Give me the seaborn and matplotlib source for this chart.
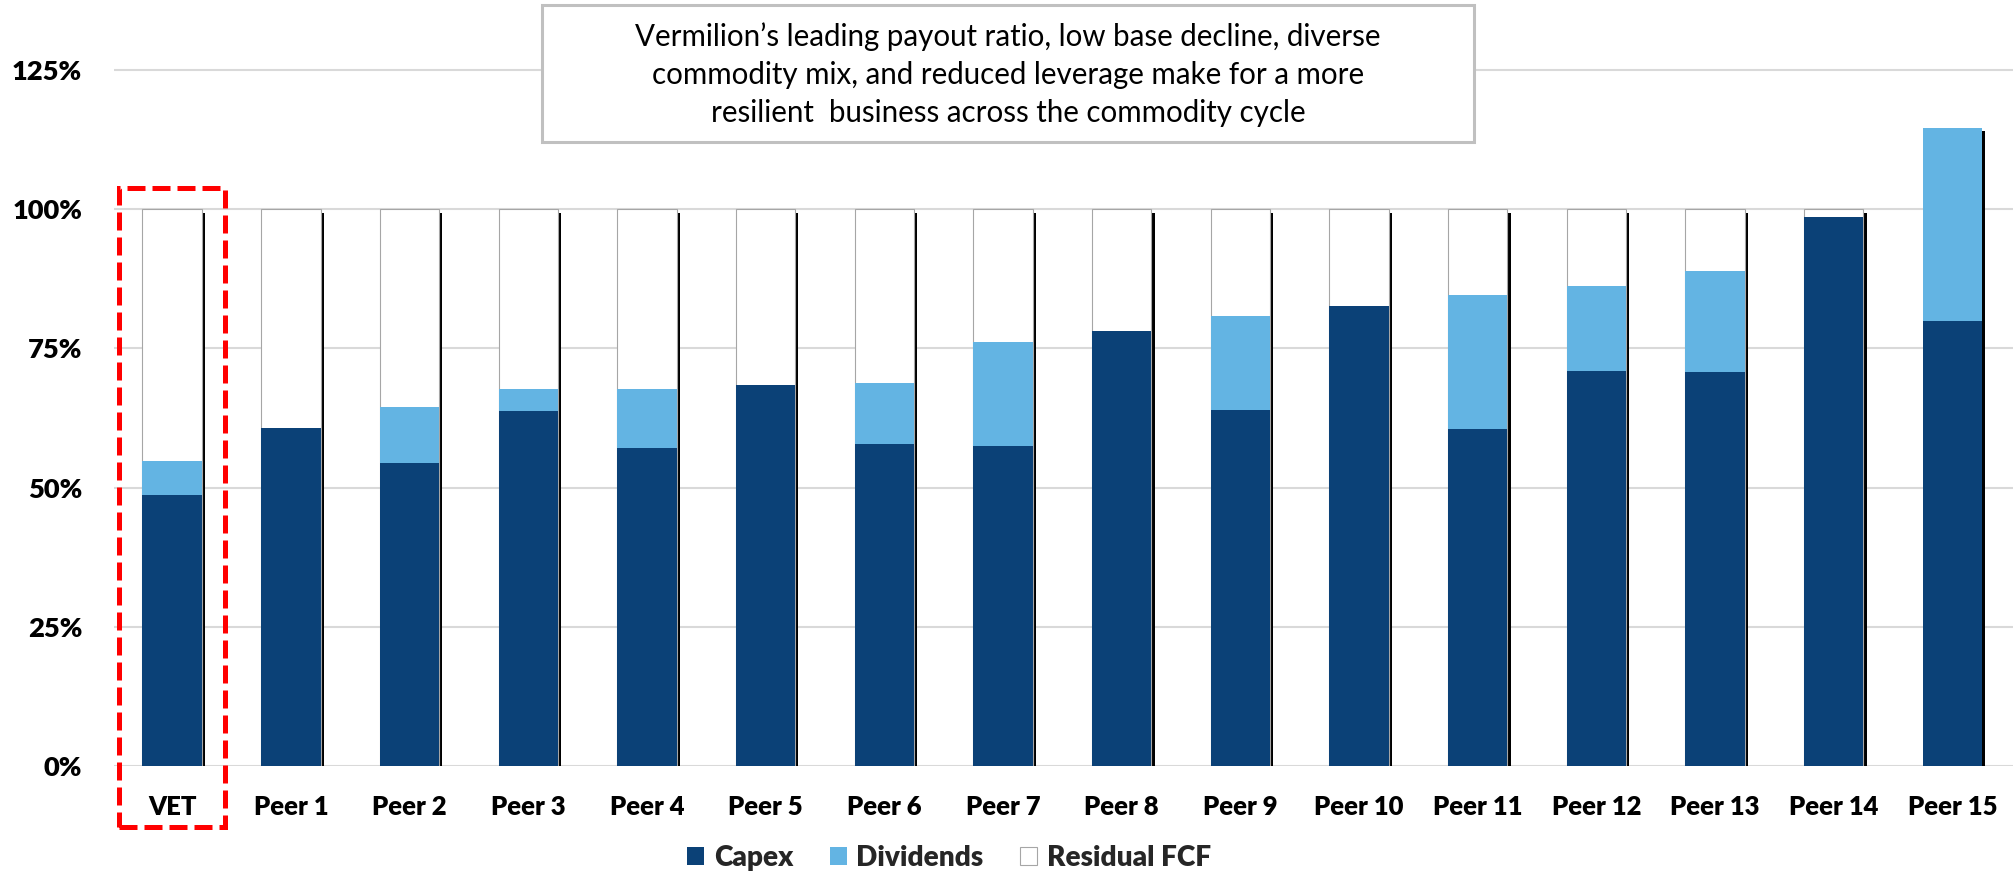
import numpy as np
import pandas as pd
import seaborn as sns
import matplotlib
matplotlib.use("Agg")
import matplotlib.pyplot as plt
import matplotlib.patheffects as pe
from matplotlib.patches import Rectangle, Patch
from matplotlib.ticker import FuncFormatter

# ---------------- data ----------------
categories = ["VET", "Peer 1", "Peer 2", "Peer 3", "Peer 4", "Peer 5", "Peer 6", "Peer 7",
              "Peer 8", "Peer 9", "Peer 10", "Peer 11", "Peer 12", "Peer 13", "Peer 14", "Peer 15"]
capex = [48.6, 60.7, 54.4, 63.8, 57.2, 68.4, 57.8, 57.5, 78.2, 63.9, 82.6, 60.6, 71.0, 70.7, 98.7, 80.0]
dividends = [6.1, 0.0, 10.1, 3.9, 10.6, 0.0, 11.0, 18.6, 0.0, 16.9, 0.0, 24.0, 15.2, 18.3, 0.0, 34.6]
residual = [45.3, 39.3, 35.5, 32.3, 32.2, 31.6, 31.2, 23.9, 21.8, 19.2, 17.4, 15.4, 13.8, 11.0, 1.3, 0.0]
series_names = ["Capex", "Dividends", "Residual FCF"]
y_ticks = [0, 25, 50, 75, 100, 125]
note = ("Vermilion\u2019s leading payout ratio, low base decline, diverse\n"
        "commodity mix, and reduced leverage make for a more\n"
        "resilient  business across the commodity cycle")

C_CAPEX = "#0b4177"
C_DIV = "#63b4e3"
C_RES = "#ffffff"
C_RES_EDGE = "#a6a6a6"

df = pd.DataFrame({"cat": categories, "capex": capex, "div": dividends, "res": residual})
df["lvl1"] = df["capex"]
df["lvl2"] = df["capex"] + df["div"]
df["lvl3"] = df["capex"] + df["div"] + df["res"]

# ---------------- figure ----------------
sns.set_theme(style="white")
plt.rcParams["font.family"] = ["Lato", "DejaVu Sans"]

W, H = 2013, 873
fig = plt.figure(figsize=(W / 100, H / 100), dpi=100)
renderer = fig.canvas.get_renderer()
BOLD = "heavy"


def fit_size(txt, weight, target_px, ref=20.0):
    t = fig.text(0, 0, txt, fontsize=ref, fontweight=weight)
    w = t.get_window_extent(renderer=renderer).width
    t.remove()
    return ref * target_px / w


fs_xt = fit_size("Peer 1", BOLD, 74.5)
fs_yt = fit_size("100%", BOLD, 70)
fs_leg = fit_size("Residual FCF", BOLD, 164)
fs_note = fit_size(note.split("\n")[0], "normal", 747)

ax_left, ax_bottom = 114 / W, 107 / H
ax = fig.add_axes([ax_left, ax_bottom, 1 - ax_left, 1 - ax_bottom])
ax.set_axisbelow(True)

bar_w = 0.5
# top layer (residual) with drop shadow
sns.barplot(data=df, x="cat", y="lvl3", color=C_RES, saturation=1, width=bar_w,
            edgecolor=C_RES_EDGE, linewidth=0.8, ax=ax)
layer3 = list(ax.patches)
for p, r in zip(layer3, residual):
    p.set_path_effects([pe.SimplePatchShadow(offset=(2.3, -2.3), shadow_rgbFace="black", alpha=1.0),
                        pe.Normal()])
    if r == 0:
        p.set_edgecolor("none")
sns.barplot(data=df, x="cat", y="lvl2", color=C_DIV, saturation=1, width=bar_w,
            linewidth=0, ax=ax)
sns.barplot(data=df, x="cat", y="lvl1", color=C_CAPEX, saturation=1, width=bar_w,
            linewidth=0, ax=ax)

ax.set_xlim(-0.49, 15.51)
ax.set_ylim(0, 137.6)
ax.set_yticks(y_ticks)
ax.yaxis.set_major_formatter(FuncFormatter(lambda v, _: f"{v:.0f}%"))
ax.grid(axis="y", color="#d9d9d9", linewidth=1.5)
ax.grid(axis="x", visible=False)
for s in ax.spines.values():
    s.set_visible(False)
ax.set_xlabel("")
ax.set_ylabel("")
ax.tick_params(axis="x", length=0, pad=21, labelsize=fs_xt)
ax.tick_params(axis="y", length=0, pad=23, labelsize=fs_yt)
for lab in ax.get_xticklabels() + ax.get_yticklabels():
    lab.set_fontweight(BOLD)
    lab.set_color("black")

# red dashed highlight around VET
hl = Rectangle((-0.448, -11.0), 0.892, 114.8, fill=False, edgecolor="#ff0000",
               linewidth=3.6, linestyle=(0, (3.6, 1.4)), clip_on=False, zorder=5)
ax.add_patch(hl)

# commentary box
box = Rectangle((542 / W, 1 - 142 / H), (1474 - 542) / W, (142 - 5) / H,
                transform=fig.transFigure, facecolor="white", edgecolor="#c0c0c0",
                linewidth=2.2, zorder=10)
fig.add_artist(box)
for i, line in enumerate(note.split("\n")):
    fig.text(1008 / W, 1 - (37 + 38 * i) / H, line, ha="center", va="center",
             fontsize=fs_note, color="black", zorder=11)

# legend
px = fs_leg * 100 / 72
handles = [Patch(facecolor=C_CAPEX, edgecolor="none"),
           Patch(facecolor=C_DIV, edgecolor="none"),
           Patch(facecolor=C_RES, edgecolor=C_RES_EDGE, linewidth=0.8)]
leg = fig.legend(handles, series_names, loc="center", bbox_to_anchor=(949 / W, 1 - 858 / H),
                 ncol=3, frameon=False, fontsize=fs_leg,
                 handlelength=17 / px, handleheight=17 / px,
                 handletextpad=10 / px, columnspacing=36 / px, borderaxespad=0)
for t in leg.get_texts():
    t.set_fontweight(BOLD)

fig.savefig("out.png", dpi=100, facecolor="white")
